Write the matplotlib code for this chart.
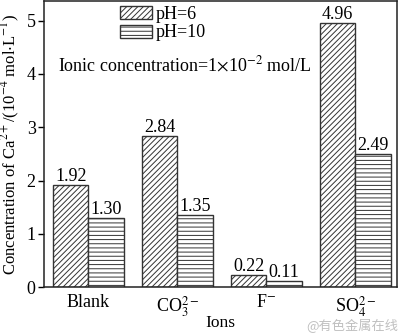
import matplotlib
matplotlib.use("Agg")
import matplotlib.pyplot as plt
import numpy as np

categories = ["Blank", r"CO$_3^{2-}$", r"F$^{-}$", r"SO$_4^{2-}$"]
ph6 = [1.92, 2.84, 0.22, 4.96]
ph10 = [1.30, 1.35, 0.11, 2.49]
series_labels = ["pH=6", "pH=10"]

plt.rcParams['font.family'] = ['Liberation Serif', 'DejaVu Serif']
plt.rcParams['mathtext.fontset'] = 'stix'
plt.rcParams['hatch.color'] = '#666666'
plt.rcParams['hatch.linewidth'] = 0.7

fig = plt.figure(figsize=(4.0, 3.33), dpi=100)
ax = fig.add_axes([0.11, 0.138, 0.883, 0.859])

x = np.arange(len(categories))
w = 0.4
b1 = ax.bar(x - w/2, ph6, w, facecolor='white', edgecolor='#333333', linewidth=1.0,
            hatch='//////', label=series_labels[0])
b2 = ax.bar(x + w/2, ph10, w, facecolor='white', edgecolor='#333333', linewidth=1.0,
            hatch='----', label=series_labels[1])

for bars, vals in ((b1, ph6), (b2, ph10)):
    for r, v in zip(bars, vals):
        ax.text(r.get_x() + r.get_width()/2, v + 0.0, f"{v:.2f}", ha='center', va='bottom',
                fontsize=13)

ax.set_xlim(-0.5, 3.47)
ax.set_ylim(0, 5.37)
ax.set_yticks([0, 1, 2, 3, 4, 5])
ax.set_xticks(x)
ax.set_xticklabels(categories, fontsize=13)
ax.tick_params(axis='x', length=0, pad=5)
ax.tick_params(axis='y', direction='out', length=4, width=1, labelsize=13, pad=2)
for s in ax.spines.values():
    s.set_linewidth(1.1)
    s.set_color('#222222')

ax.set_xlabel("Ions", fontsize=12.5)
ax.xaxis.set_label_coords(0.5, -0.098)
ax.set_ylabel(r"Concentration of Ca$^{2+}$/(10$^{-4}$ mol$\cdot$L$^{-1}$)", fontsize=12, labelpad=3)

ax.text(0.04, 0.776, r"Ionic concentration=1$\times$10$^{-2}$ mol/L", transform=ax.transAxes,
        fontsize=13, ha='left', va='center')

leg = ax.legend(loc='upper left', bbox_to_anchor=(0.21, 0.99), frameon=False, fontsize=13,
                handlelength=1.8, handleheight=0.75, labelspacing=0.1, handletextpad=0.15,
                borderaxespad=0.0, borderpad=0.1)

fig.text(0.995, 0.0, "@有色金属在线", fontsize=9.5, color='#c0c0c0', ha='right', va='bottom',
         family=['Noto Sans CJK SC', 'DejaVu Sans'])

fig.savefig("out.png", dpi=100)
